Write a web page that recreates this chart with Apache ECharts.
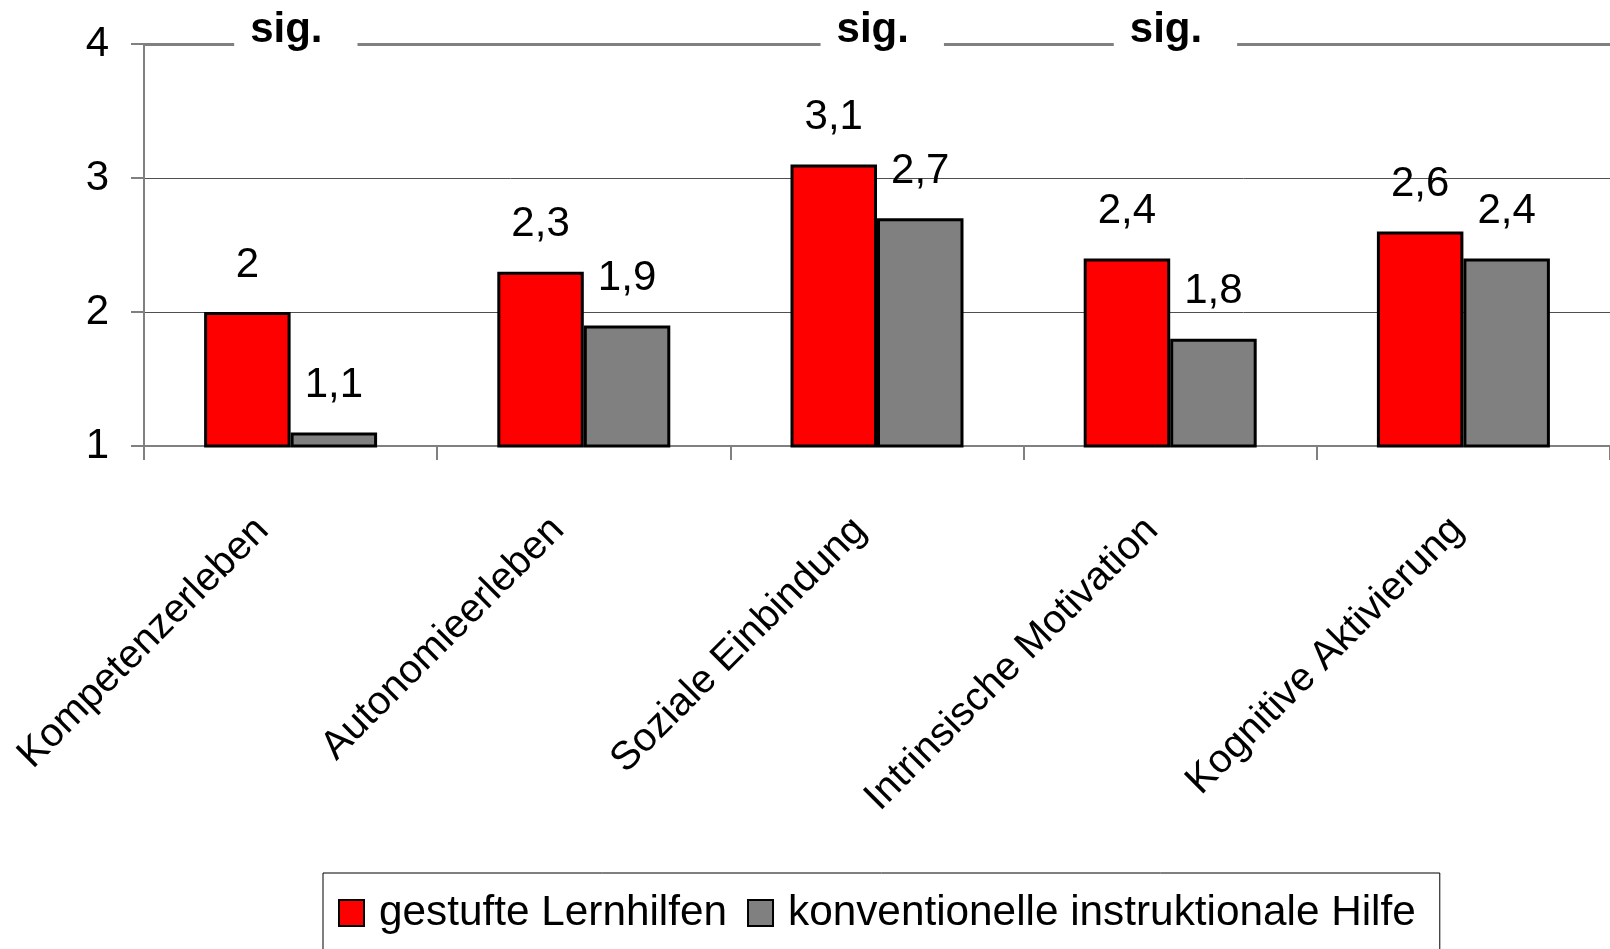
<!DOCTYPE html>
<html>
<head>
<meta charset="utf-8">
<script src="https://cdn.jsdelivr.net/npm/echarts@6/dist/echarts.min.js"></script>
<style>
html,body{margin:0;padding:0;background:#fff;}
#chart{width:1610px;height:949px;}
</style>
</head>
<body>
<div id="chart"></div>
<script>
const categories = ['Kompetenzerleben', 'Autonomieerleben', 'Soziale Einbindung', 'Intrinsische Motivation', 'Kognitive Aktivierung'];
const seriesNames = ['gestufte Lernhilfen', 'konventionelle instruktionale Hilfe'];
const gestufteValues = [2, 2.3, 3.1, 2.4, 2.6];
const konventionelleValues = [1.1, 1.9, 2.7, 1.8, 2.4];
const sigCategories = ['Kompetenzerleben', 'Soziale Einbindung', 'Intrinsische Motivation'];
const sigText = 'sig.';
const yTicks = [1, 2, 3, 4];

const FONT = '"Liberation Sans", Arial, sans-serif';
const fmt = v => String(v).replace('.', ',');

// per-label text padding [top, right, bottom, left] (style only, shifts rotated labels like the original)
const labelPads = [
  [0, 30, 20, 0],
  [0, 28, 17, 0],
  [0, 22, 4, 0],
  [0, 23, 6, 0],
  [11, 14, 0, 0]
];
const rich = {};
labelPads.forEach((p, i) => {
  rich['l' + i] = {fontFamily: FONT, fontSize: 40, color: '#000', padding: p};
});

const chart = echarts.init(document.getElementById('chart'), null, {renderer: 'canvas'});

const barLabel = {
  show: true,
  position: 'top',
  distance: 26,
  color: '#000',
  fontFamily: FONT,
  fontSize: 42,
  formatter: p => fmt(p.value)
};

const option = {
  backgroundColor: '#ffffff',
  animation: false,
  textStyle: {fontFamily: FONT},
  grid: {
    left: 144, right: 0, top: 44, bottom: 503,
    outerBoundsMode: 'none',
    containLabel: false
  },
  legend: {
    left: 323,
    top: 873,
    data: seriesNames,
    orient: 'horizontal',
    borderColor: '#000',
    borderWidth: 1,
    padding: [19, 24, 40, 15],
    itemGap: 20,
    itemWidth: 25,
    itemHeight: 26,
    icon: 'rect',
    textStyle: {fontFamily: FONT, fontSize: 42.3, color: '#000', padding: [0, 0, 0, 10]}
  },
  xAxis: {
    type: 'category',
    data: categories,
    axisLine: {show: true, lineStyle: {color: '#808080', width: 2}},
    axisTick: {show: true, length: 14, lineStyle: {color: '#808080', width: 2}},
    axisLabel: {
      interval: 0, rotate: 45, margin: 64,
      fontFamily: FONT, fontSize: 40, color: '#000',
      formatter: (v, i) => '{l' + i + '|' + v + '}',
      rich: rich
    },
    splitLine: {show: false}
  },
  yAxis: {
    type: 'value',
    min: yTicks[0],
    max: yTicks[yTicks.length - 1],
    interval: 1,
    axisLine: {show: true, lineStyle: {color: '#808080', width: 2}},
    axisTick: {show: true, length: 13, lineStyle: {color: '#808080', width: 2}},
    axisLabel: {margin: 35, fontFamily: FONT, fontSize: 42, color: '#000'},
    splitLine: {show: true, showMinLine: false, showMaxLine: false, lineStyle: {color: '#505050', width: 1}}
  },
  series: [
    {
      name: seriesNames[0],
      type: 'bar',
      data: gestufteValues,
      barGap: '0%',
      barCategoryGap: '41%',
      itemStyle: {color: '#ff0000', borderColor: '#000', borderWidth: 3},
      label: barLabel,
      markLine: {
        silent: true,
        symbol: 'none',
        z: 4,
        label: {show: false},
        lineStyle: {color: '#808080', width: 3, type: 'solid'},
        data: [{yAxis: yTicks[yTicks.length - 1]}]
      }
    },
    {
      name: seriesNames[1],
      type: 'bar',
      data: konventionelleValues,
      barGap: '0%',
      barCategoryGap: '41%',
      itemStyle: {color: '#808080', borderColor: '#000', borderWidth: 3},
      label: barLabel,
      markPoint: {
        silent: true,
        z: 10,
        symbol: 'rect',
        symbolSize: 0,
        itemStyle: {color: 'rgba(0,0,0,0)'},
        label: {
          show: true,
          position: 'inside',
          formatter: sigText,
          fontFamily: FONT,
          fontSize: 42,
          fontWeight: 'bold',
          color: '#000',
          backgroundColor: '#ffffff',
          padding: [0, 35, 0, 16],
          offset: [-38, -14]
        },
        data: sigCategories.map(c => ({coord: [c, yTicks[yTicks.length - 1]]}))
      }
    }
  ]
};

chart.setOption(option);
</script>
</body>
</html>
